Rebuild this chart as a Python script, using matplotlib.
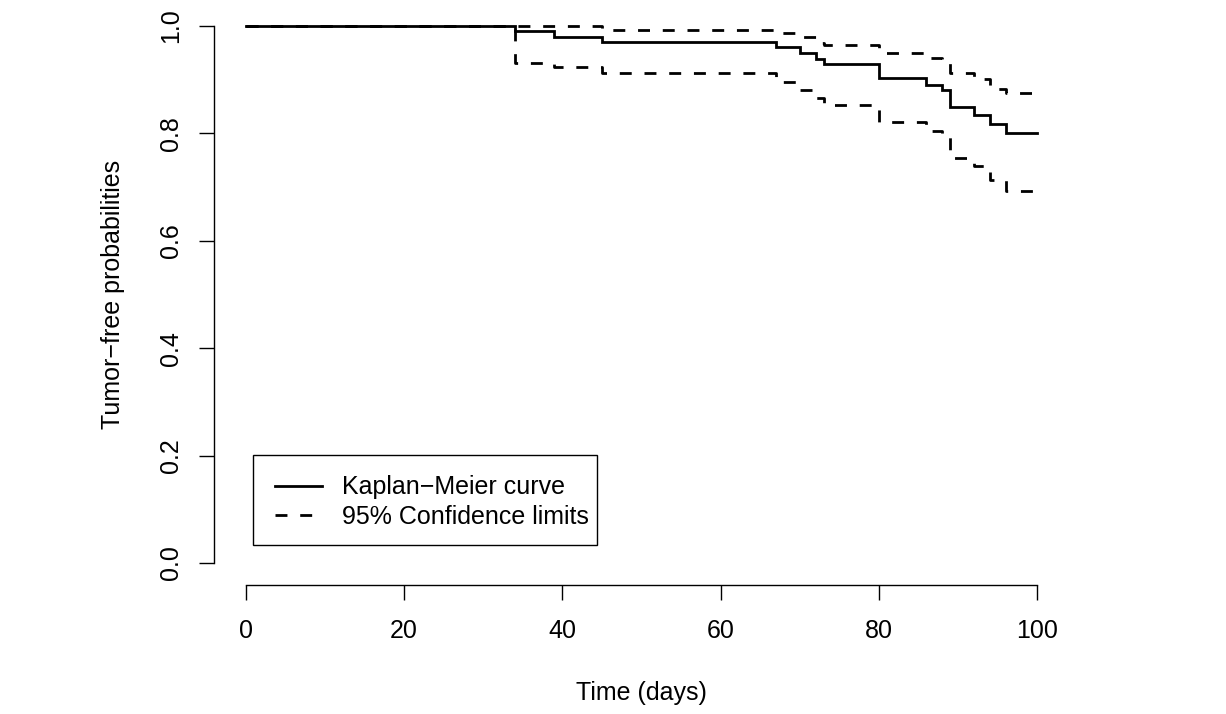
import matplotlib
matplotlib.use("Agg")
import matplotlib.pyplot as plt
from matplotlib.patches import Rectangle

# Kaplan-Meier step data (time of step, value after step)
times = [0, 34, 39, 45, 67, 70, 72, 73, 80, 86, 88, 89, 92, 94, 96, 100]
km = [1.0, 0.990, 0.980, 0.971, 0.960, 0.950, 0.938, 0.929, 0.904, 0.891, 0.880, 0.850, 0.835, 0.818, 0.801, 0.801]
upper = [1.0, 1.0, 1.0, 0.993, 0.987, 0.980, 0.968, 0.965, 0.950, 0.941, 0.936, 0.912, 0.902, 0.882, 0.875, 0.875]
lower = [1.0, 0.932, 0.923, 0.912, 0.896, 0.881, 0.865, 0.852, 0.821, 0.805, 0.794, 0.755, 0.739, 0.713, 0.692, 0.692]

xticks = [0, 20, 40, 60, 80, 100]
yticks = [0.0, 0.2, 0.4, 0.6, 0.8, 1.0]
ytick_labels = ["0.0", "0.2", "0.4", "0.6", "0.8", "1.0"]

legend_labels = ["Kaplan\u2212Meier curve", "95% Confidence limits"]

plt.rcParams["font.family"] = ["Liberation Sans", "DejaVu Sans"]
FS = 18

fig = plt.figure(figsize=(12.26, 7.14), dpi=100)
ax = fig.add_axes([214 / 1226, 1 - 584.5 / 714, (1069 - 214) / 1226, (584.5 - 4.5) / 714])

dash = (0, (4.3, 4.6))
l1, = ax.step(times, km, where="post", color="black", lw=2.0, solid_joinstyle="miter")
l2, = ax.step(times, upper, where="post", color="black", lw=2.0, linestyle=dash)
ax.step(times, lower, where="post", color="black", lw=2.0, linestyle=dash)

ax.set_xlim(-4, 104)
ax.set_ylim(-0.04, 1.04)

for s in ["top", "right"]:
    ax.spines[s].set_visible(False)
ax.spines["left"].set_bounds(0, 1)
ax.spines["bottom"].set_bounds(0, 100)
for s in ["left", "bottom"]:
    ax.spines[s].set_linewidth(1.0)

ax.set_xticks(xticks)
ax.set_xticklabels([str(t) for t in xticks])
ax.set_yticks(yticks)
ax.set_yticklabels(ytick_labels, rotation=90, va="center")
ax.tick_params(axis="both", direction="out", length=10.5, width=1.0, labelsize=FS)
ax.tick_params(axis="x", pad=14)
ax.tick_params(axis="y", pad=12)

ax.set_xlabel("Time (days)", fontsize=FS, labelpad=28)
ax.set_ylabel("Tumor\u2212free probabilities", fontsize=FS, labelpad=24)

# legend box (R-style, drawn separately from entries)
box = Rectangle((0.88, 0.0335), 43.5, 0.1675, transform=ax.transData,
                facecolor="white", edgecolor="black", linewidth=1.0, zorder=4)
ax.add_patch(box)

leg = ax.legend([l1, l2], legend_labels, loc="upper left",
                bbox_to_anchor=(3.67, 0.163), bbox_transform=ax.transData,
                borderaxespad=0, fontsize=FS, frameon=False, handlelength=1.88,
                handletextpad=0.82, borderpad=0.0, labelspacing=0.22)
leg.set_zorder(5)

fig.savefig("out.png", dpi=100)
